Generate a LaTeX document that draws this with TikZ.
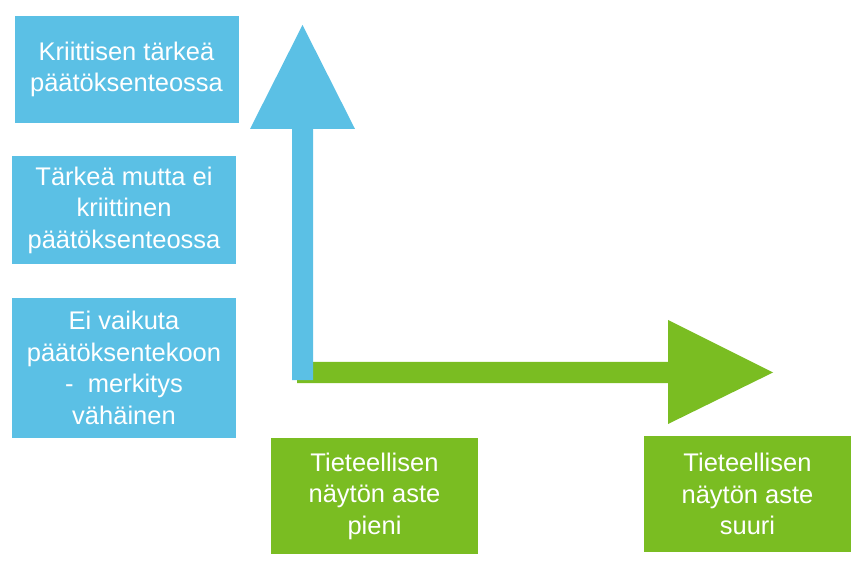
\documentclass[tikz,border=0pt]{standalone}
\usepackage{fontspec}
\setmainfont{Liberation Sans}
\usetikzlibrary{positioning,calc}
\definecolor{levelblue}{RGB}{91,192,229}
\definecolor{evidencegreen}{RGB}{122,189,34}

\begin{document}
\begin{tikzpicture}[x=1pt,y=-1pt,
            box/.style={rectangle,inner sep=0pt,align=center,text=white,font=\fontsize{25.5}{31.5}\selectfont},
            level/.style={box,fill=levelblue,minimum width=224pt},
            evidence/.style={box,fill=evidencegreen,minimum width=207pt,minimum height=116pt}]

            \useasboundingbox (0,0) rectangle (865,569);

            % importance levels
            \node[level,minimum height=107pt] (critical) at (126.5,69.5) {Kriittisen tärkeä\\päätöksenteossa};
            \node[level,minimum height=108pt] (important) at (124,210) {Tärkeä mutta ei\\kriittinen\\päätöksenteossa};
            \node[level,minimum height=140pt] (minor) at (124,368) {Ei vaikuta\\päätöksentekoon\\-\ \ merkitys\\vähäinen};

            % evidence levels
            \node[evidence] (low) at (374.5,496) {Tieteellisen\\näytön aste\\pieni};
            \node[evidence] (high) at (747.5,494) {Tieteellisen\\näytön aste\\suuri};

            % axes
            \fill[evidencegreen] (297,362) -- (668,362) -- (668,320) -- (773,372.5) -- (668,424) -- (668,383) -- (297,383) -- cycle;
            \fill[levelblue] (292,380) -- (292,129) -- (250,129) -- (302.5,25) -- (355,129) -- (313,129) -- (313,380) -- cycle;
\end{tikzpicture}
\end{document}
